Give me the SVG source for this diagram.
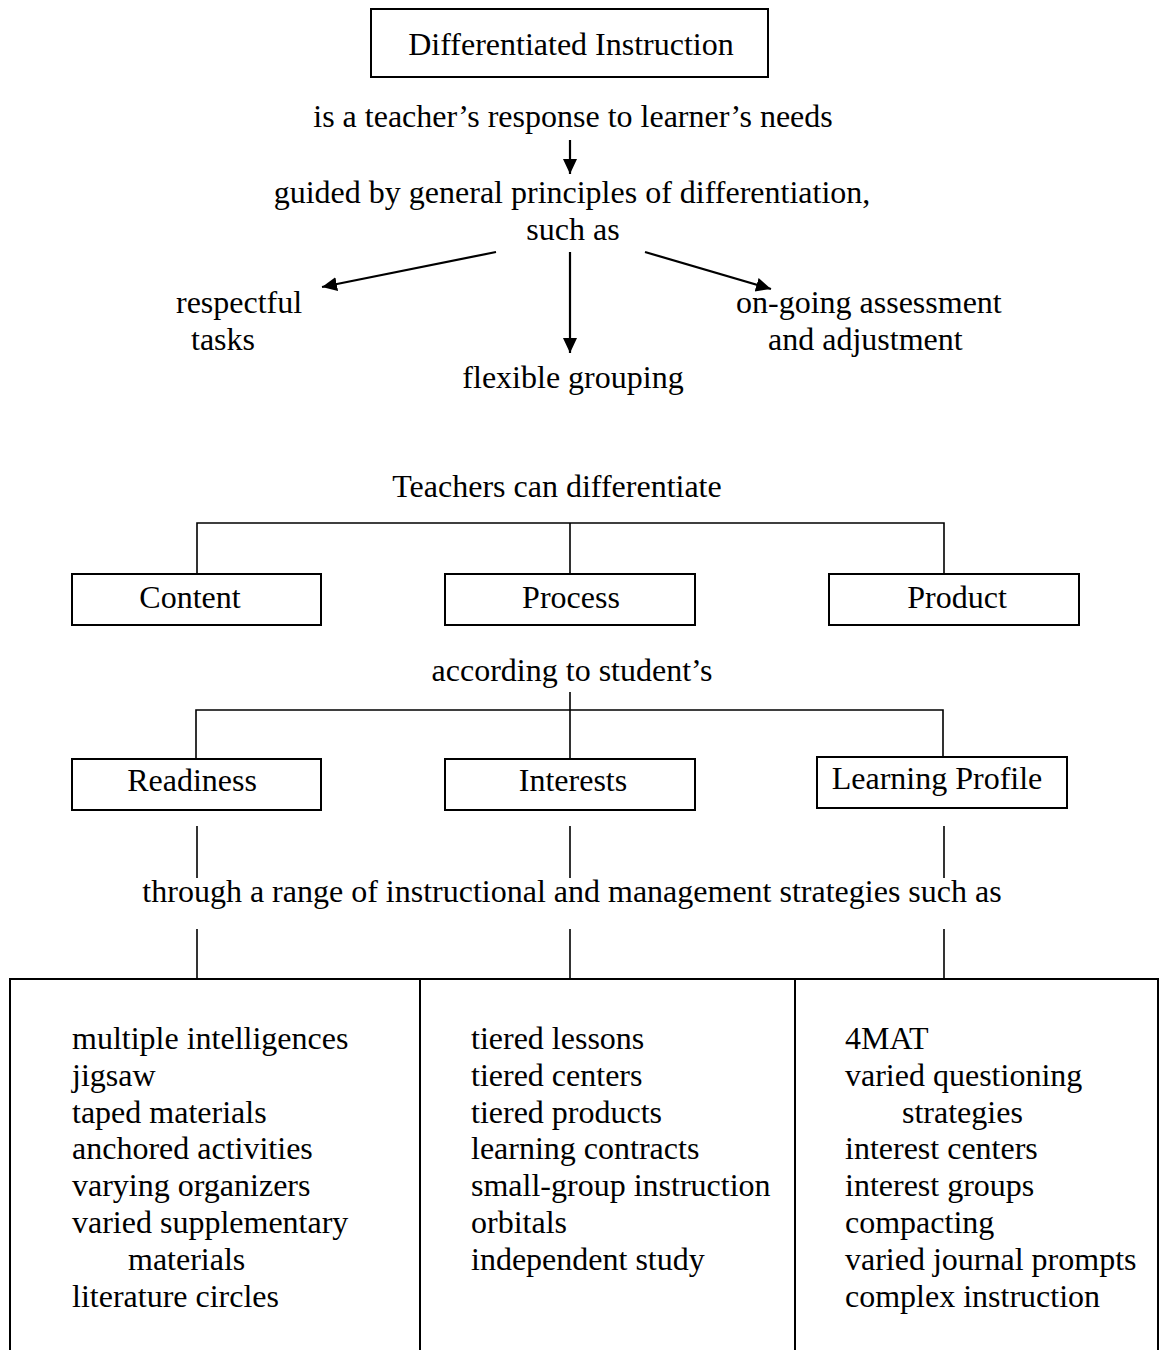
<svg xmlns="http://www.w3.org/2000/svg" width="1160" height="1350" viewBox="0 0 1160 1350">
  <style>
    text { font-family: "Liberation Serif", "Times New Roman", serif; font-size: 32px; fill: #000; }
    .c { text-anchor: middle; }
    .box { fill: #fff; stroke: #000; stroke-width: 2; }
    .ln { stroke: #000; stroke-width: 1.6; fill: none; }
    .arr { stroke: #000; stroke-width: 2.2; fill: none; marker-end: url(#ah); }
  </style>
  <defs>
    <marker id="ah" markerUnits="userSpaceOnUse" markerWidth="18" markerHeight="16" refX="15" refY="7" orient="auto">
      <path d="M0,0 L15,7 L0,14 z" fill="#000"/>
    </marker>
  </defs>
  <rect width="1160" height="1350" fill="#fff"/>

  <g id="connectors">
    <line class="arr" x1="570" y1="140" x2="570" y2="174"/>
    <line class="arr" x1="496" y1="252" x2="322" y2="287"/>
    <line class="arr" x1="570" y1="252" x2="570" y2="353"/>
    <line class="arr" x1="645" y1="252" x2="771" y2="289"/>
    <path class="ln" d="M197,574 V523 H944 V574 M570,523 V574"/>
    <path class="ln" d="M570,692 V759 M196,759 V710 H943 V758"/>
    <line class="ln" x1="197" y1="826" x2="197" y2="878"/>
    <line class="ln" x1="570" y1="826" x2="570" y2="878"/>
    <line class="ln" x1="944" y1="826" x2="944" y2="878"/>
    <line class="ln" x1="197" y1="929" x2="197" y2="979"/>
    <line class="ln" x1="570" y1="929" x2="570" y2="979"/>
    <line class="ln" x1="944" y1="929" x2="944" y2="979"/>
  </g>

  <g id="di">
    <rect class="box" x="371" y="9" width="397" height="68"/>
    <text class="c" x="571" y="55">Differentiated Instruction</text>
  </g>
  <g id="response"><text class="c" x="573" y="127">is a teacher’s response to learner’s needs</text></g>
  <g id="guided">
    <text class="c" x="572" y="203">guided by general principles of differentiation,</text>
    <text class="c" x="573" y="240">such as</text>
  </g>
  <g id="respectful">
    <text x="176" y="313">respectful</text>
    <text x="191" y="350">tasks</text>
  </g>
  <g id="flexible"><text class="c" x="573" y="388">flexible grouping</text></g>
  <g id="ongoing">
    <text x="736" y="313">on-going assessment</text>
    <text x="768" y="350">and adjustment</text>
  </g>

  <g id="teachers"><text class="c" x="557" y="497">Teachers can differentiate</text></g>
  <g id="content">
    <rect class="box" x="72" y="574" width="249" height="51"/>
    <text class="c" x="190" y="608">Content</text>
  </g>
  <g id="process">
    <rect class="box" x="445" y="574" width="250" height="51"/>
    <text class="c" x="571" y="608">Process</text>
  </g>
  <g id="product">
    <rect class="box" x="829" y="574" width="250" height="51"/>
    <text class="c" x="957" y="608">Product</text>
  </g>

  <g id="according"><text class="c" x="572" y="681">according to student’s</text></g>
  <g id="readiness">
    <rect class="box" x="72" y="759" width="249" height="51"/>
    <text class="c" x="192" y="791">Readiness</text>
  </g>
  <g id="interests">
    <rect class="box" x="445" y="759" width="250" height="51"/>
    <text class="c" x="573" y="791">Interests</text>
  </g>
  <g id="profile">
    <rect class="box" x="817" y="757" width="250" height="51"/>
    <text class="c" x="937" y="789">Learning Profile</text>
  </g>

  <g id="through"><text class="c" x="572" y="902">through a range of instructional and management strategies such as</text></g>

  <g id="col1">
    <rect class="box" x="10" y="979" width="410" height="420"/>
    <text x="72" y="1049">multiple intelligences</text>
    <text x="72" y="1086">jigsaw</text>
    <text x="72" y="1122.6">taped materials</text>
    <text x="72" y="1159.4">anchored activities</text>
    <text x="72" y="1196.2">varying organizers</text>
    <text x="72" y="1233">varied supplementary</text>
    <text x="128" y="1269.8">materials</text>
    <text x="72" y="1306.6">literature circles</text>
  </g>
  <g id="col2">
    <rect class="box" x="420" y="979" width="375" height="420"/>
    <text x="471" y="1049">tiered lessons</text>
    <text x="471" y="1086">tiered centers</text>
    <text x="471" y="1122.6">tiered products</text>
    <text x="471" y="1159.4">learning contracts</text>
    <text x="471" y="1196.2">small-group instruction</text>
    <text x="471" y="1233">orbitals</text>
    <text x="471" y="1269.8">independent study</text>
  </g>
  <g id="col3">
    <rect class="box" x="795" y="979" width="363" height="420"/>
    <text x="845" y="1049">4MAT</text>
    <text x="845" y="1086">varied questioning</text>
    <text x="902" y="1122.6">strategies</text>
    <text x="845" y="1159.4">interest centers</text>
    <text x="845" y="1196.2">interest groups</text>
    <text x="845" y="1233">compacting</text>
    <text x="845" y="1269.8">varied journal prompts</text>
    <text x="845" y="1306.6">complex instruction</text>
  </g>
</svg>
